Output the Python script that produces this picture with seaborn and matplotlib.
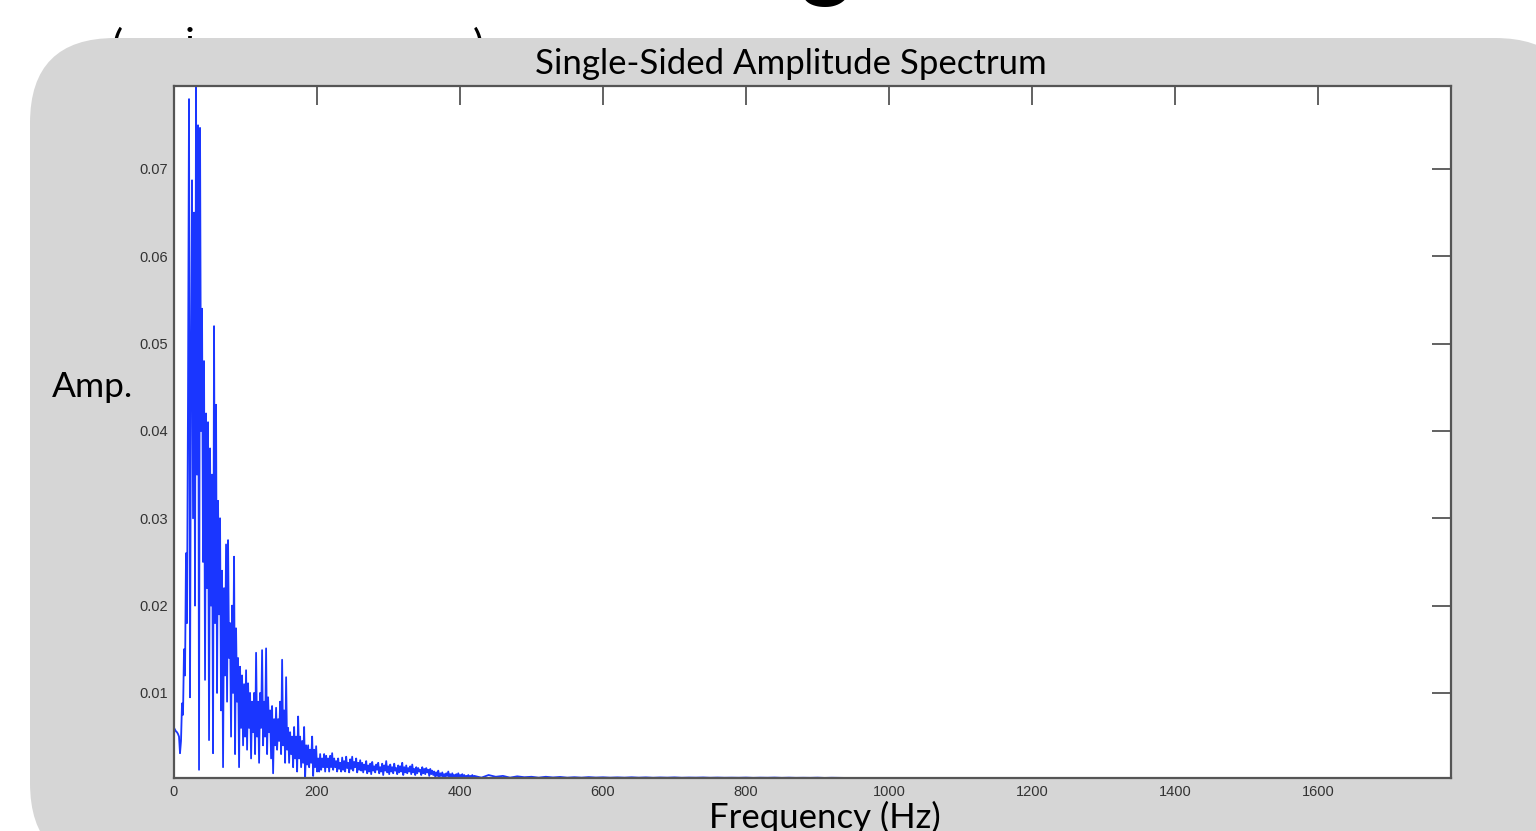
import numpy as np
import pandas as pd
import matplotlib
matplotlib.use("Agg")
import matplotlib.pyplot as plt
import seaborn as sns
from matplotlib.patches import FancyBboxPatch
from matplotlib.transforms import IdentityTransform

# ---------------- data (amplitudes in units of 1e-3) ----------------
main_step_hz = 1.4
amp_main_milli = [
    6.0, 5.8, 5.6, 5.5, 5.3, 5.0, 3.1, 4.5, 8.8, 7.5,
    15.0, 12.0, 26.0, 18.0, 44.0, 78.0, 9.5, 47.0, 68.7, 30.0,
    65.0, 20.0, 80.0, 35.0, 75.0, 1.2, 74.7, 40.0, 54.0, 25.0,
    48.0, 11.5, 42.0, 22.0, 41.0, 4.6, 38.0, 20.0, 35.0, 3.1,
    52.0, 18.0, 43.0, 10.0, 32.0, 19.0, 30.0, 8.0, 24.0, 1.5,
    22.0, 12.0, 27.0, 9.0, 27.5, 14.0, 18.0, 5.0, 20.0, 10.0,
    25.6, 3.0, 17.4, 9.0, 14.0, 1.5, 13.0, 6.0, 12.0, 4.0,
    11.0, 5.0, 12.6, 3.5, 11.1, 6.0, 10.0, 2.5, 9.0, 5.5,
    10.0, 3.0, 14.6, 5.0, 9.0, 2.0, 10.0, 6.0, 14.9, 4.0,
    9.0, 5.0, 15.1, 3.0, 9.5, 5.5, 8.0, 2.5, 8.5, 0.8,
    7.0, 4.0, 8.3, 3.5, 7.0, 4.5, 9.0, 3.0, 13.8, 4.0,
    8.0, 2.0, 11.8, 3.5, 6.0, 2.0, 5.5, 3.0, 5.0, 1.5,
    6.1, 2.5, 5.0, 1.0, 7.3, 2.5, 5.0, 1.5, 4.5, 2.0,
    6.1, 0.3, 4.0, 1.8, 4.0, 1.5, 3.5, 2.0, 5.0, 0.5,
    3.5, 1.5, 3.9, 1.0, 2.5, 1.0, 3.0, 1.2, 2.5, 1.5,
    3.0, 1.0, 2.8, 1.5, 2.5, 1.0, 2.8, 1.5, 3.1, 1.2,
    2.5, 1.5, 2.2, 1.0, 2.5, 1.3, 2.0, 1.0,
    2.6, 1.2, 2.2, 1.0, 2.7, 1.4, 2.0, 0.9, 2.4, 1.3,
    2.7, 1.1, 2.1, 1.5, 2.5, 0.9, 2.0, 1.2, 2.3,
    1.1, 2.0, 0.9, 1.8, 1.2, 2.2, 0.8, 1.7, 1.0, 1.9,
    0.7, 2.1, 1.1, 1.6, 0.9, 1.8, 1.2, 2.0, 0.8, 1.5,
    1.0, 1.9, 0.6, 1.7, 1.1, 2.2, 0.9, 1.6, 0.7, 1.8,
    1.0, 1.5, 0.8, 1.9, 1.1, 1.4, 0.7, 1.7, 0.9, 1.6,
    1.0, 2.0, 0.6, 1.5, 0.9, 1.7, 0.8, 1.4, 1.0, 1.6,
    0.7, 1.8, 0.9, 1.3, 0.6, 1.5, 0.8, 1.4, 1.0, 1.2,
    0.6, 1.5, 0.8, 1.3, 0.7, 1.4, 0.9, 1.2, 0.5, 1.3,
    0.7, 1.1, 0.6,
    1.0, 0.4, 0.9, 0.5, 1.1, 0.3, 0.8, 0.5, 0.9, 0.4,
    0.7, 0.3, 0.8, 0.5, 1.0, 0.4, 0.7, 0.3, 0.8, 0.4,
    0.6, 0.3, 0.7, 0.4, 0.8, 0.3, 0.6, 0.4, 0.7, 0.3,
    0.6, 0.3, 0.5, 0.4, 0.6, 0.3, 0.5, 0.3, 0.6, 0.3,
]
tail_freq_hz = [420 + 10 * k for k in range(59)] + [1050 + 50 * k for k in range(15)] + [1786]
amp_tail_milli = [
    0.5, 0.3, 0.6, 0.4, 0.5, 0.3, 0.45, 0.35, 0.4, 0.3,
    0.4, 0.32, 0.38, 0.3, 0.35, 0.3, 0.36, 0.31, 0.34, 0.3,
    0.33, 0.3, 0.34, 0.3, 0.33, 0.29, 0.32, 0.3, 0.33, 0.29,
    0.31, 0.3, 0.32, 0.29, 0.31, 0.29, 0.3, 0.29, 0.31, 0.28,
    0.3, 0.29, 0.31, 0.28, 0.3, 0.28, 0.29, 0.28, 0.3, 0.27,
    0.29, 0.28, 0.27, 0.26, 0.25, 0.24, 0.22, 0.2, 0.18,
    0.15, 0.14, 0.13, 0.12, 0.12, 0.11, 0.11, 0.1, 0.1, 0.1,
    0.09, 0.09, 0.09, 0.08, 0.08, 0.08,
]
x_ticks = [0, 200, 400, 600, 800, 1000, 1200, 1400, 1600]
y_ticks = [0.01, 0.02, 0.03, 0.04, 0.05, 0.06, 0.07]
y_tick_labels = ["0.01", "0.02", "0.03", "0.04", "0.05", "0.06", "0.07"]
title = "Single-Sided Amplitude Spectrum"
x_label = "Frequency (Hz)"
y_label = "Amp."

freq = list(np.arange(len(amp_main_milli)) * main_step_hz) + tail_freq_hz
amp = [v / 1000.0 for v in amp_main_milli + amp_tail_milli]
df = pd.DataFrame({"freq": freq, "amp": amp})

# ---------------- figure ----------------
sns.set_style("white")
plt.rcParams['font.family'] = ['Liberation Sans', 'DejaVu Sans']

W, H = 1536, 831
fig = plt.figure(figsize=(W / 100, H / 100), dpi=100, facecolor='white')

# partially hidden slide text behind the grey panel
for ch, xp in [("(", 117), ("i", 190), (")", 478)]:
    fig.text(xp / W, 1 - 27 / H, ch, fontsize=30, family='Lato', color='black',
             ha='center', va='top', zorder=-1)
fig.text(826 / W, 1 + 11 / H, "g", fontsize=72, family='Lato', color='black',
         ha='center', va='baseline', zorder=-1)

panel = FancyBboxPatch((30, H - 868), 1550, 868 - 38,
                       boxstyle="round,pad=0,rounding_size=85",
                       transform=IdentityTransform(), facecolor='#d6d6d6',
                       edgecolor='none', zorder=0)
fig.add_artist(panel)

ax = fig.add_axes([174 / W, (H - 778) / H, 1277 / W, 692 / H])
ax.set_zorder(2)
ax.set_facecolor('white')
sns.lineplot(data=df, x="freq", y="amp", ax=ax, color='#1a36ff', lw=1.3,
             estimator=None, sort=False)
ax.set_xlim(0, 1786)
ax.set_ylim(0.00026, 0.0795)
ax.set_xticks(x_ticks)
ax.set_xticklabels([str(t) for t in x_ticks])
ax.set_yticks(y_ticks)
ax.set_yticklabels(y_tick_labels)
ax.tick_params(direction='in', length=14, width=1.3, color='#555555',
               top=True, right=True, labelsize=10.5, labelcolor='#333333')
ax.tick_params(axis='x', pad=5)
ax.tick_params(axis='y', pad=4)
for s in ax.spines.values():
    s.set_visible(True)
    s.set_color('#555555')
    s.set_linewidth(1.6)
ax.set_xlabel("")
ax.set_ylabel("")

fig.text(791 / W, 1 - 64 / H, title, fontsize=25, family='Lato', color='black',
         ha='center', va='center', zorder=3)
fig.text(52 / W, 1 - 387 / H, y_label, fontsize=25.5, family='Lato', color='black',
         ha='left', va='center', zorder=3)
fig.text(825 / W, 1 - 801 / H, x_label, fontsize=25, family='Lato', color='black',
         ha='center', va='top', zorder=3)

fig.savefig("out.png", dpi=100, facecolor='white')
